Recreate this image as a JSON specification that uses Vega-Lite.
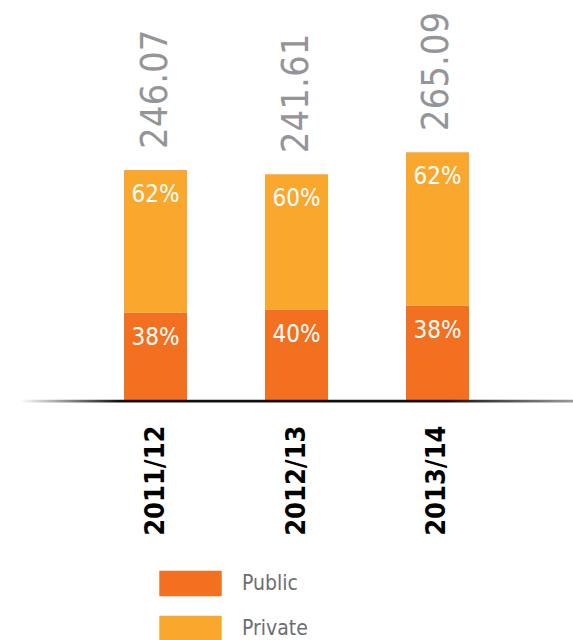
{
  "$schema": "https://vega.github.io/schema/vega-lite/v6.json",
  "width": 553,
  "height": 400,
  "padding": {"left": 20, "top": 0, "right": 0, "bottom": 0},
  "background": "white",
  "config": {"view": {"stroke": null}},
  "datasets": {
    "shares": [
      {"year": "2011/12", "type": "Public", "rank": 1, "value": 93.51, "pct": "38%"},
      {"year": "2011/12", "type": "Private", "rank": 2, "value": 152.56, "pct": "62%"},
      {"year": "2012/13", "type": "Public", "rank": 1, "value": 96.64, "pct": "40%"},
      {"year": "2012/13", "type": "Private", "rank": 2, "value": 144.97, "pct": "60%"},
      {"year": "2013/14", "type": "Public", "rank": 1, "value": 100.73, "pct": "38%"},
      {"year": "2013/14", "type": "Private", "rank": 2, "value": 164.36, "pct": "62%"}
    ],
    "totals": [
      {"year": "2011/12", "total": 246.07, "label": "246.07"},
      {"year": "2012/13", "total": 241.61, "label": "241.61"},
      {"year": "2013/14", "total": 265.09, "label": "265.09"}
    ],
    "base": [{"b0": 0.3, "b1": -2.6}]
  },
  "layer": [
    {
      "data": {"name": "shares"},
      "transform": [
        {"stack": "value", "groupby": ["year"], "sort": [{"field": "rank"}], "as": ["v0", "v1"]}
      ],
      "layer": [
        {
          "mark": {"type": "bar"},
          "encoding": {
            "x": {
              "field": "year", "type": "nominal", "sort": null,
              "scale": {"paddingInner": 0.5532, "paddingOuter": 0.7376},
              "axis": {
                "title": null, "ticks": false, "domain": false,
                "labelAngle": -90, "labelAlign": "right", "labelBaseline": "middle",
                "labelPadding": 25, "labelFont": "DejaVu Sans Condensed, Roboto, sans-serif",
                "labelFontWeight": "bold", "labelFontSize": 27, "labelColor": "#000000"
              }
            },
            "y": {
              "field": "v0", "type": "quantitative",
              "scale": {"domain": [0, 428], "nice": false},
              "axis": null
            },
            "y2": {"field": "v1"},
            "color": {
              "field": "type", "type": "nominal",
              "scale": {"domain": ["Public", "Private"], "range": ["#F37021", "#FAA72E"]},
              "legend": {
                "orient": "none", "legendX": 139, "legendY": 552, "direction": "vertical",
                "title": null, "padding": 0,
                "symbolType": "M-1,-0.41H1V0.41H-1Z", "symbolSize": 3900,
                "symbolStrokeWidth": 0, "symbolOpacity": 1,
                "labelFont": "DejaVu Sans Condensed, Roboto, sans-serif", "labelFontSize": 21,
                "labelColor": "#6D6E71", "labelOffset": 20, "rowPadding": -18,
                "labelBaseline": "middle"
              }
            }
          }
        },
        {
          "mark": {
            "type": "text", "color": "#ffffff", "font": "DejaVu Sans Condensed, Roboto, sans-serif",
            "fontSize": 24, "baseline": "middle", "align": "center", "dy": 25
          },
          "encoding": {
            "x": {"field": "year", "type": "nominal", "sort": null},
            "y": {"field": "v1", "type": "quantitative"},
            "text": {"field": "pct"}
          }
        }
      ]
    },
    {
      "data": {"name": "totals"},
      "mark": {
        "type": "text", "color": "#939598", "font": "DejaVu Sans Condensed, Roboto, sans-serif",
        "fontSize": 38, "angle": -90, "align": "left", "baseline": "middle", "dx": 21
      },
      "encoding": {
        "x": {"field": "year", "type": "nominal", "sort": null},
        "y": {"field": "total", "type": "quantitative"},
        "text": {"field": "label"}
      }
    },
    {
      "data": {"name": "base"},
      "mark": {
        "type": "rect",
        "fill": {
          "gradient": "linear", "x1": 0, "x2": 1, "y1": 0, "y2": 0,
          "stops": [
            {"offset": 0, "color": "#ffffff"},
            {"offset": 0.18, "color": "#111111"},
            {"offset": 0.77, "color": "#111111"},
            {"offset": 1, "color": "#9a9a9a"}
          ]
        }
      },
      "encoding": {
        "y": {"field": "b0", "type": "quantitative"},
        "y2": {"field": "b1"}
      }
    }
  ]
}
